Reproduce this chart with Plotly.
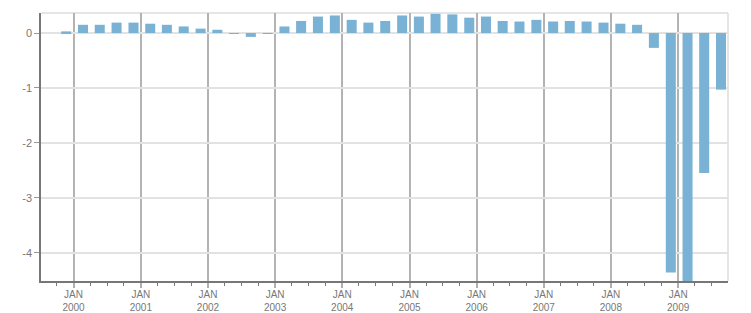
import pandas as pd
import plotly.graph_objects as go

# Quarterly categories (1999 Q4 .. 2009 Q3)
quarters = ["1999Q4",
            "2000Q1", "2000Q2", "2000Q3", "2000Q4",
            "2001Q1", "2001Q2", "2001Q3", "2001Q4",
            "2002Q1", "2002Q2", "2002Q3", "2002Q4",
            "2003Q1", "2003Q2", "2003Q3", "2003Q4",
            "2004Q1", "2004Q2", "2004Q3", "2004Q4",
            "2005Q1", "2005Q2", "2005Q3", "2005Q4",
            "2006Q1", "2006Q2", "2006Q3", "2006Q4",
            "2007Q1", "2007Q2", "2007Q3", "2007Q4",
            "2008Q1", "2008Q2", "2008Q3", "2008Q4",
            "2009Q1", "2009Q2", "2009Q3"]

values = [0.03,
          0.15, 0.15, 0.19, 0.19,
          0.17, 0.15, 0.12, 0.08,
          0.06, -0.015, -0.07, -0.015,
          0.12, 0.22, 0.30, 0.32,
          0.24, 0.19, 0.22, 0.32,
          0.30, 0.35, 0.34, 0.28,
          0.30, 0.22, 0.21, 0.24,
          0.21, 0.22, 0.21, 0.19,
          0.17, 0.15, -0.27, -4.36,
          -4.65, -2.55, -1.03]

year_ticks = ["2000-01-01", "2001-01-01", "2002-01-01", "2003-01-01", "2004-01-01",
              "2005-01-01", "2006-01-01", "2007-01-01", "2008-01-01", "2009-01-01"]
year_labels = ["JAN<br>2000", "JAN<br>2001", "JAN<br>2002", "JAN<br>2003", "JAN<br>2004",
               "JAN<br>2005", "JAN<br>2006", "JAN<br>2007", "JAN<br>2008", "JAN<br>2009"]

y_ticks = [0, -1, -2, -3, -4]
y_labels = ["0", "-1", "-2", "-3", "-4"]

x_dates = [pd.Period(q, freq="Q").start_time.strftime("%Y-%m-%d") for q in quarters]

DAY = 86400000
bar_w = 54.5 * DAY

fig = go.Figure()
fig.add_trace(go.Bar(
    x=x_dates, y=values,
    xperiod="M3", xperiodalignment="middle",
    width=bar_w, offset=-bar_w / 2 + 6 * DAY,
    marker=dict(color="#79b2d4", line=dict(width=0)),
    hoverinfo="x+y",
))

FONT = "Tahoma, Liberation Sans, Arial, sans-serif"

fig.update_layout(
    width=751, height=313,
    margin=dict(l=41, r=23, t=13, b=32),
    paper_bgcolor="white", plot_bgcolor="white",
    showlegend=False,
    font=dict(family=FONT, size=10, color="#666666"),
    xaxis=dict(
        type="date",
        automargin=False,
        range=["1999-07-08", "2009-09-29"],
        tickmode="array", tickvals=year_ticks, ticktext=year_labels,
        ticks="outside", ticklen=5, tickcolor="#b0b0b0", tickwidth=1.5,
        ticklabelstandoff=-2,
        showgrid=True, gridcolor="#b3b3b3", gridwidth=1.5,
        showline=True, linecolor="#777777", linewidth=2,
        minor=dict(dtick="M3", tick0="2000-01-01", ticks="outside", ticklen=3,
                   tickcolor="#777777", tickwidth=1, showgrid=False),
        tickfont=dict(family=FONT, size=10, color="#777777"),
        zeroline=False, fixedrange=True,
    ),
    yaxis=dict(
        automargin=False,
        range=[-4.515, 0.365],
        tickmode="array", tickvals=y_ticks, ticktext=y_labels,
        ticks="outside", ticklen=5, tickcolor="#999999", tickwidth=1,
        showgrid=True, gridcolor="#e2e2e2", gridwidth=1.5,
        zeroline=True, zerolinecolor="#e2e2e2", zerolinewidth=1.5,
        showline=True, linecolor="#777777", linewidth=1.5,
        tickfont=dict(family=FONT, size=11, color="#777777"),
        fixedrange=True,
    ),
    bargap=0.4,
)

# light border on top and right of plot area
fig.add_shape(type="line", xref="paper", yref="paper", x0=0, x1=1, y0=1, y1=1,
              line=dict(color="#dddddd", width=1.5), layer="below")
fig.add_shape(type="line", xref="paper", yref="paper", x0=1, x1=1, y0=0, y1=1,
              line=dict(color="#dddddd", width=1.5), layer="below")

fig.write_html("out.html")
